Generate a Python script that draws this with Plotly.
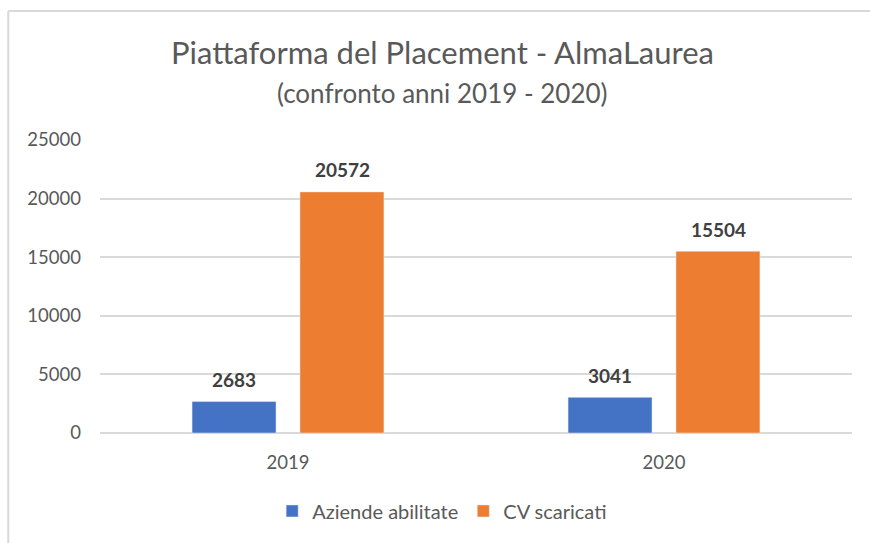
import plotly.graph_objects as go

years = ["2019", "2020"]
aziende = [2683, 3041]
cv = [20572, 15504]
series_names = ["Aziende abilitate", "CV scaricati"]
title_text = "Piattaforma del Placement - AlmaLaurea"
subtitle_text = "(confronto anni 2019 - 2020)"

FONT = "Lato, 'Open Sans', sans-serif"
BLUE = "#4472C4"
ORANGE = "#ED7D31"

fig = go.Figure()
fig.add_trace(go.Bar(x=years, y=aziende, name=series_names[0], marker_color=BLUE))
fig.add_trace(go.Bar(x=years, y=cv, name=series_names[1], marker_color=ORANGE))

for vals, dx in ((aziende, -54), (cv, 54)):
    for i, yv in enumerate(vals):
        fig.add_annotation(x=i, y=yv, xref="x", yref="y", text=f"<b>{yv}</b>",
                           showarrow=False, xshift=dx, yshift=22, yanchor="middle",
                           font=dict(family=FONT, size=19, color="#404040"))

fig.add_annotation(x=0.456, y=1.30, xref="paper", yref="paper", text=title_text,
                   showarrow=False, xanchor="center", yanchor="middle",
                   font=dict(family=FONT, size=31, color="#595959"))
fig.add_annotation(x=0.456, y=1.16, xref="paper", yref="paper", text=subtitle_text,
                   showarrow=False, xanchor="center", yanchor="middle",
                   font=dict(family=FONT, size=26, color="#595959"))

# chart border (top and left visible in reference)
fig.add_shape(type="line", xref="paper", yref="paper", x0=-0.122, x1=1.1, y0=1.440, y1=1.440,
              line=dict(color="#D9D9D9", width=2))
fig.add_shape(type="line", xref="paper", yref="paper", x0=-0.122, x1=-0.122, y0=1.440, y1=-0.5,
              line=dict(color="#D9D9D9", width=2))

fig.update_layout(
    width=870, height=543,
    margin=dict(l=100, r=18, t=140, b=110),
    paper_bgcolor="white", plot_bgcolor="white",
    barmode="group", bargap=0.426, bargroupgap=0.222,
    font=dict(family=FONT, size=16, color="#595959"),
    showlegend=True,
    legend=dict(orientation="h", x=0.455, xanchor="center", y=-0.266, yanchor="middle",
                font=dict(family=FONT, size=20, color="#595959"), itemwidth=30,
                traceorder="normal"),
)
fig.update_yaxes(range=[0, 25000], dtick=5000, tickformat="d", showgrid=True, gridcolor="#D9D9D9",
                 gridwidth=1.5, zeroline=True, zerolinecolor="#D9D9D9", zerolinewidth=1.5,
                 showline=False, ticks="", ticklabelstandoff=18,
                 tickfont=dict(family=FONT, size=18.5, color="#595959"), fixedrange=True)
fig.update_xaxes(type="category", range=[-0.5, 1.5], showgrid=False, showline=False, ticks="",
                 ticklabelstandoff=16, fixedrange=True,
                 tickfont=dict(family=FONT, size=18.5, color="#595959"))

fig.write_html("out.html", config={"displayModeBar": False},
               post_script="document.body.style.margin='0px';")
